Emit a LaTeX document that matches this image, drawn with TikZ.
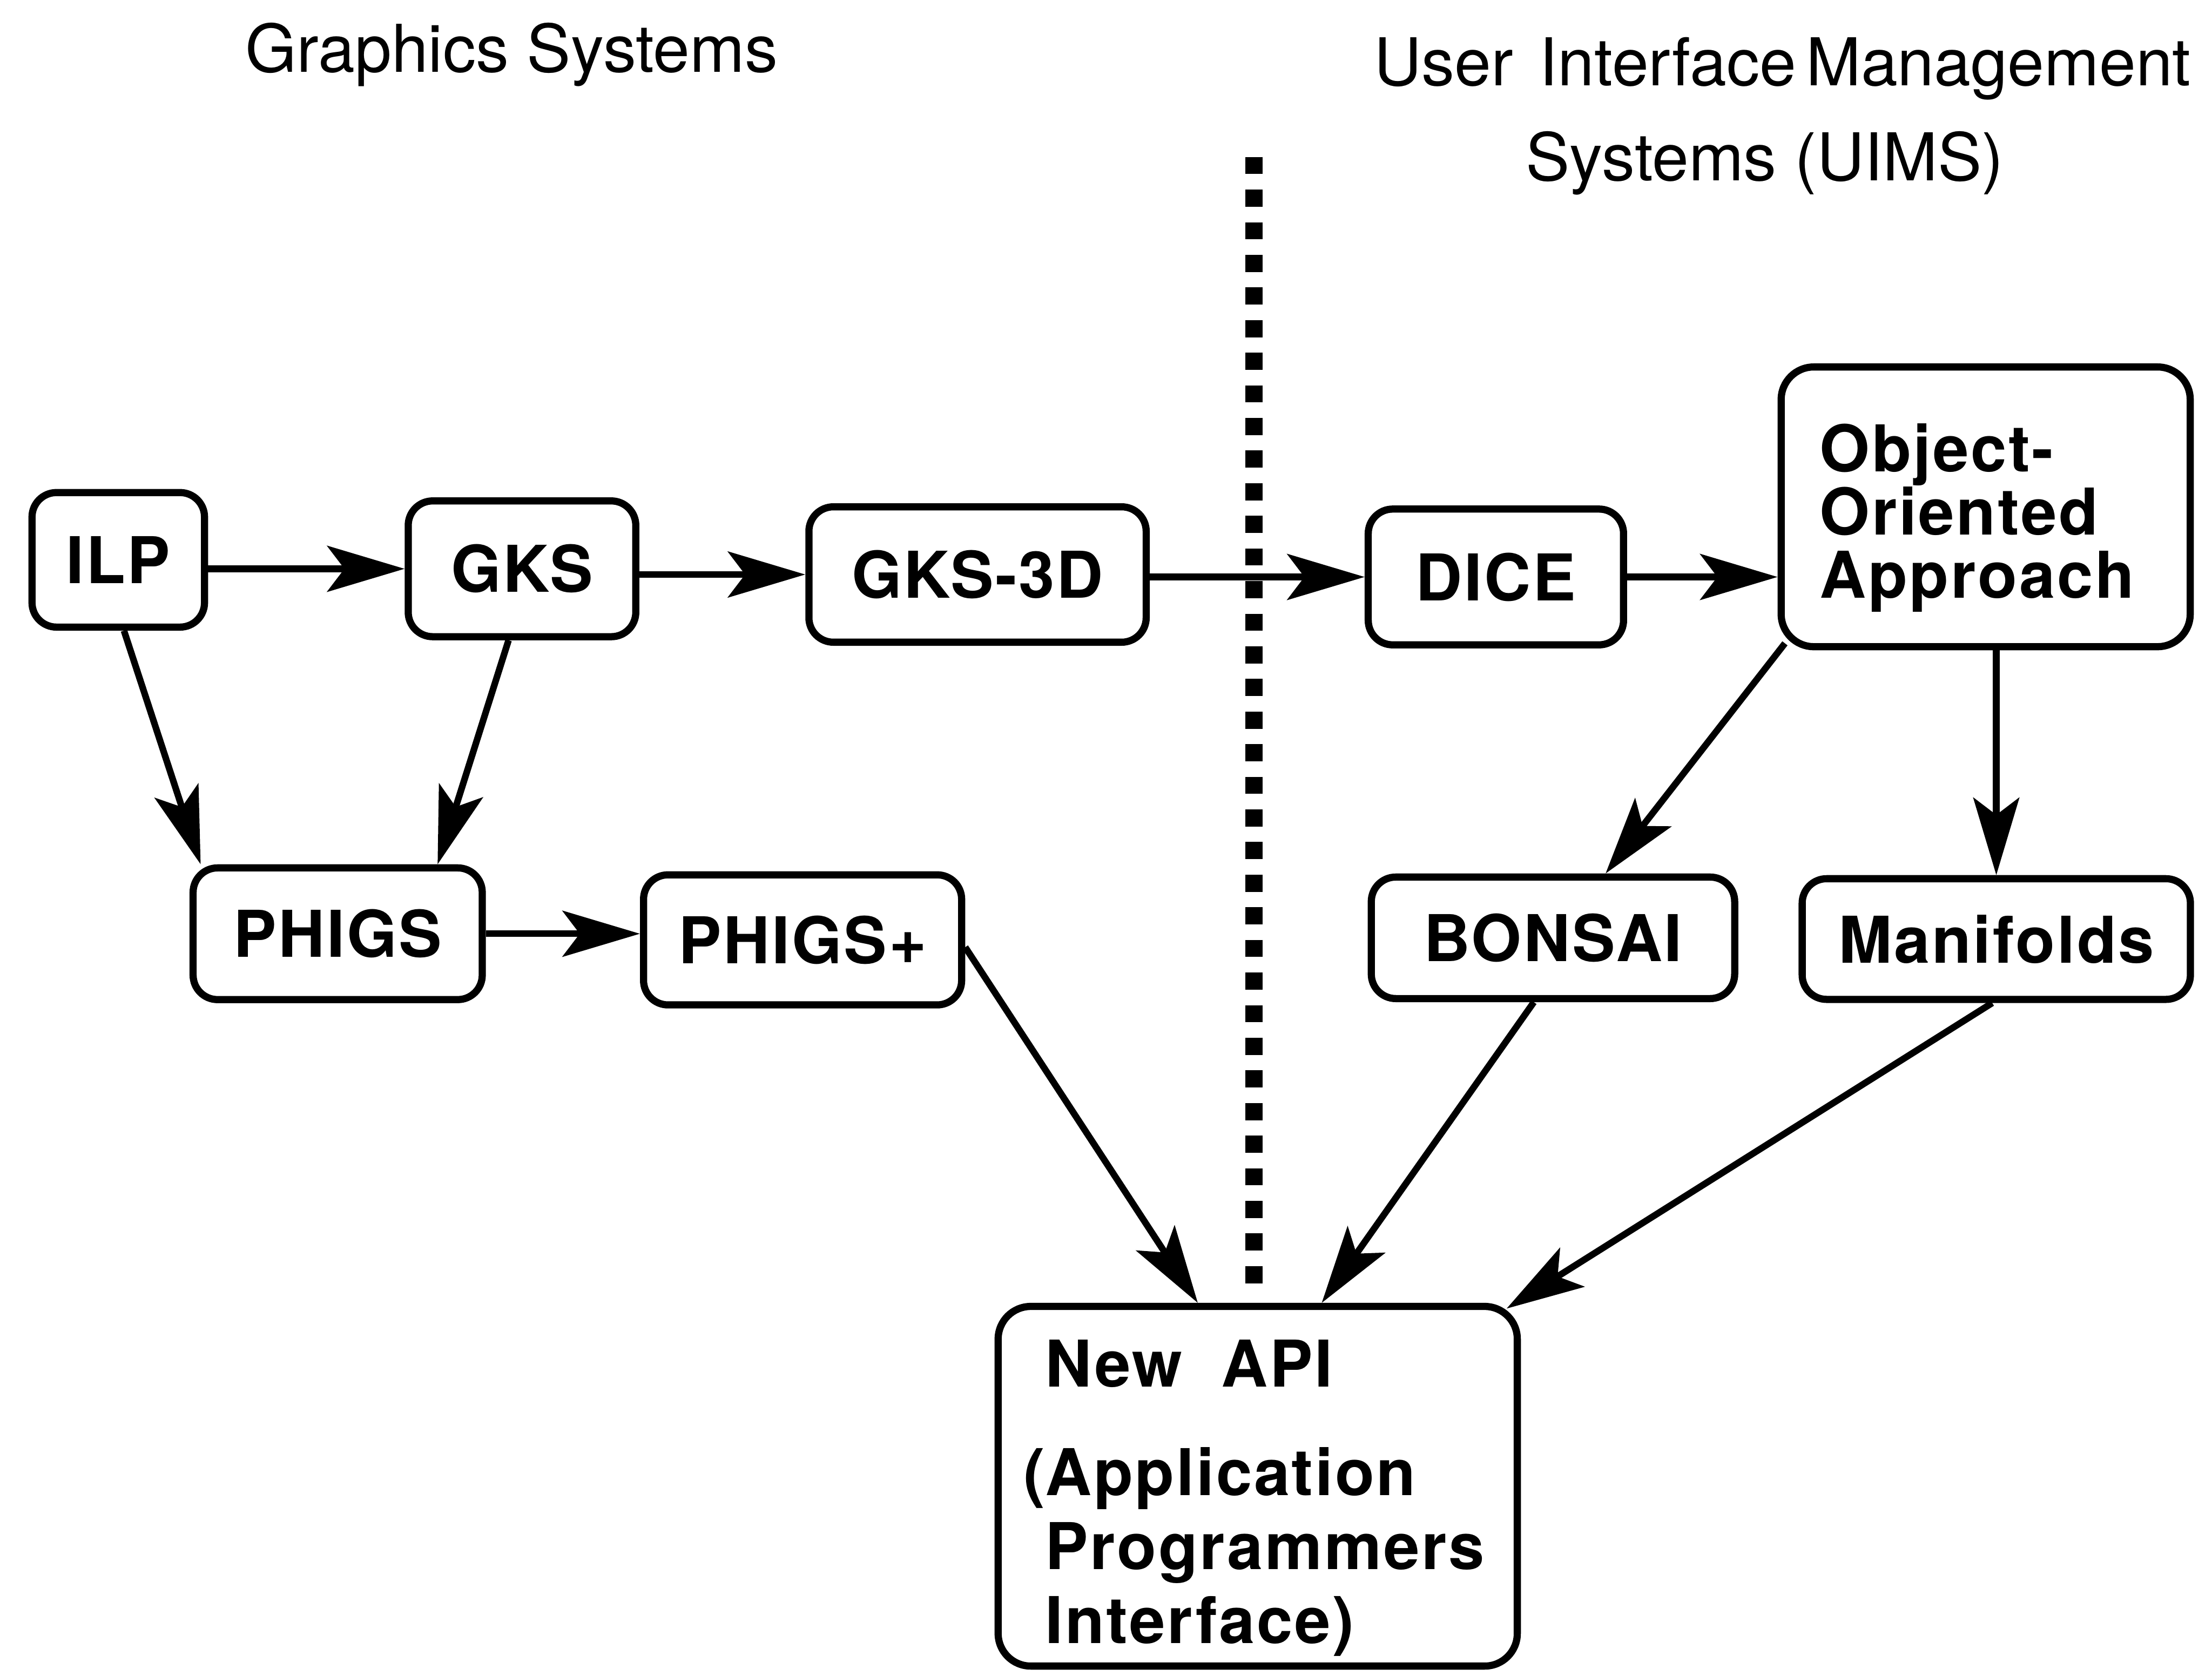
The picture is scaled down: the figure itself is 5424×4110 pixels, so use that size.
\documentclass[tikz,border=0pt]{standalone}
\usepackage{fontspec}
\setmainfont{TeX Gyre Heros}
\newfontfamily\boxfont{TeX Gyre Heros}[LetterSpace=3]
\usetikzlibrary{arrows.meta,calc}
\begin{document}
\begin{tikzpicture}[x=0.05mm,y=-0.05mm,
  box/.style={draw, line width=2.5pt, rounded corners=3mm, inner sep=0pt,
    font=\boxfont\bfseries\fontsize{22.5}{25.8}\selectfont},
  bigbox/.style={box, rounded corners=4mm},
  sz/.style 2 args={minimum width=#1*0.05mm, minimum height=#2*0.05mm},
  conn/.style={line width=2.3pt, -{Stealth[length=27pt,width=16pt,inset=6pt]}},
  title/.style={font=\fontsize{23}{27}\selectfont, inner sep=0pt, anchor=base west},
  divider/.style={line width=6pt, dash pattern=on 2.1mm off 1.9mm}
]
\fill[white] (0,0) rectangle (5424,4110);
\useasboundingbox (0,0) rectangle (5424,4110);

% titles
\node[title] (tgs) at (600,177) {Graphics Systems};
\node[title] (tuimsa) at (3368,210) {User\hspace{0.4em}Interface\hspace{0.15em}Management};
\node[title] (tuimsb) at (3740,443) {Systems (UIMS)};

% divider
\coordinate (dtop) at (3075,385);
\coordinate (dbot) at (3075,3147);
\draw[divider] (dtop) -- (dbot);

% nodes
\node[box, sz={423}{330}] (ilp) at (290,1373) {ILP};
\node[box, sz={558}{333}] (gks) at (1280,1395) {GKS};
\node[box, sz={827}{332}] (gks3d) at (2397,1409) {GKS-3D};
\node[box, sz={626}{333}] (dice) at (3668,1415) {DICE};
\node[bigbox, sz={1003}{686}, text width=40.7mm, align=left,
  font=\boxfont\bfseries\fontsize{22.5}{22}\selectfont] (ooa) at (4869,1243)
  {\rule{0pt}{24.5pt}Object-\\Oriented\\Approach};
\node[box, sz={709}{323}] (phigs) at (828,2290) {PHIGS};
\node[box, sz={780}{319}] (phigsp) at (1968,2305) {PHIGS+};
\node[box, sz={891}{298}] (bonsai) at (3808,2300) {BONSAI};
\node[box, sz={952}{296}] (manif) at (4895,2303) {Manifolds};
\node[bigbox, sz={1273}{882}, text width=52.1mm, align=left] (api) at (3084,3645)
  {\rule{0pt}{24.7pt}New\hspace{0.6em}API\\[12pt]\leavevmode\llap{(}Application\\Programmers\\Interface)};

% connectors
\draw[conn] (ilp.east |- gks.west) -- (gks.west);
\draw[conn] (gks.east |- gks3d.west) -- (gks3d.west);
\draw[conn] (gks3d.east |- dice.west) -- (dice.west);
\draw[conn] (dice.east) -- (dice.east -| ooa.west);
\draw[conn] ([xshift=0.7mm]ilp.south) -- ([xshift=-16.8mm]phigs.north);
\draw[conn] ([xshift=-1.65mm]gks.south) -- ([xshift=12.25mm]phigs.north);
\draw[conn] (phigs.east) -- (phigs.east -| phigsp.west);
\draw[conn] ([yshift=-0.9mm]phigsp.east) -- ([xshift=-7.35mm]api.north);
\draw[conn] ([xshift=0.9mm,yshift=0.85mm]ooa.south west) -- ([xshift=6.45mm]bonsai.north);
\draw[conn] (manif.north |- ooa.south) -- (manif.north);
\draw[conn] ([xshift=-2.35mm]bonsai.south) -- ([xshift=7.85mm]api.north);
\draw[conn] ([xshift=-0.5mm]manif.south) -- ([xshift=-1.75mm,yshift=-0.7mm]api.north east);
\end{tikzpicture}
\end{document}
